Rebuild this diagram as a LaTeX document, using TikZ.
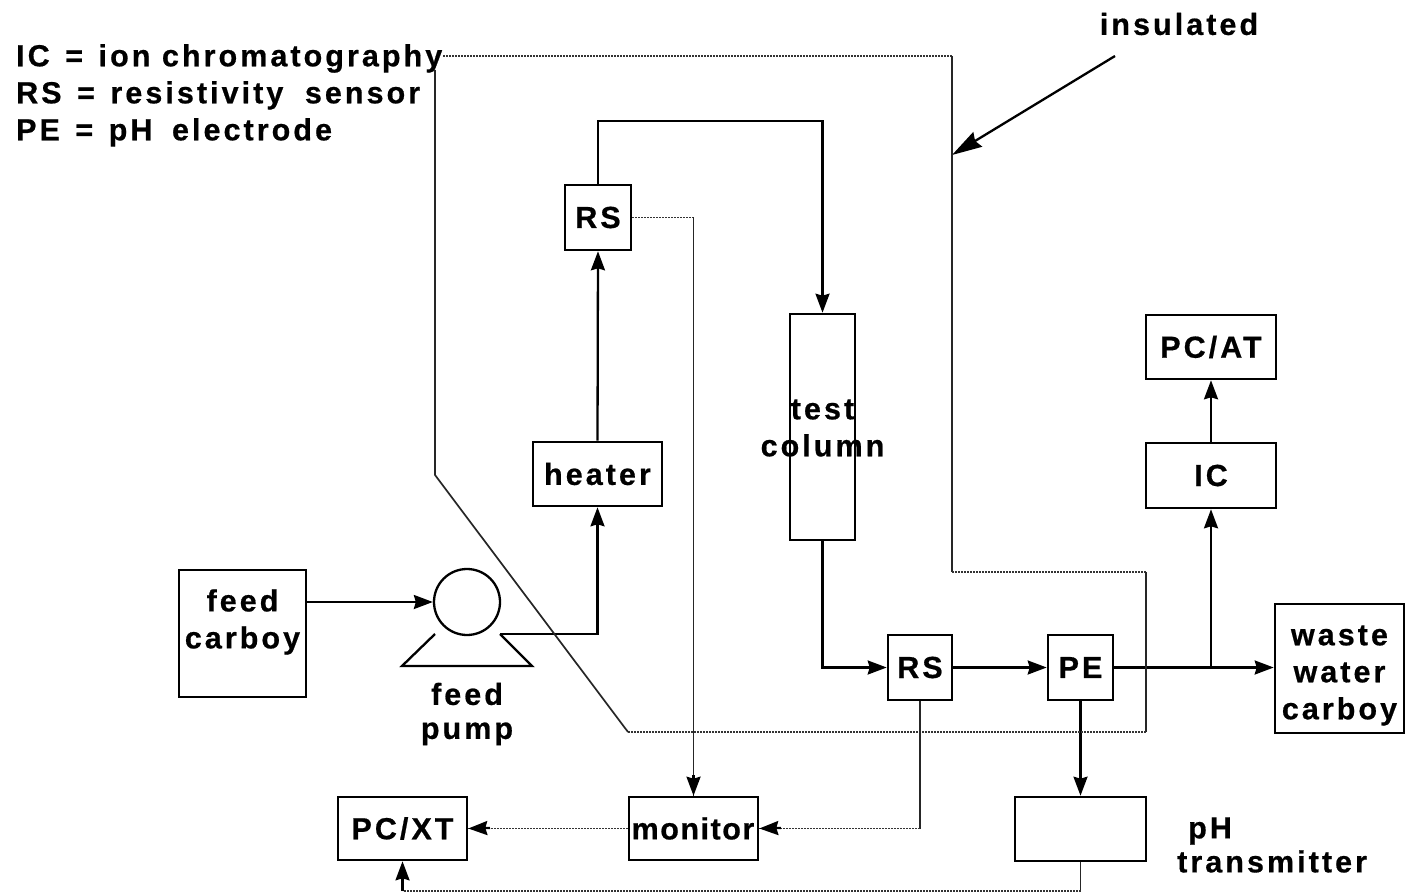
\documentclass[tikz,border=0pt]{standalone}
\usepackage{fontspec}
\setmainfont[LetterSpace=10,FakeBold=0.6]{Liberation Sans}
\newfontfamily\tightfont[LetterSpace=5,FakeBold=0.6]{Liberation Sans}
\usetikzlibrary{arrows.meta}
\tikzset{
  x=1pt,y=-1pt,
  box/.style={draw=black,line width=2.6pt,inner sep=0pt,align=center,font=\bfseries\fontsize{30.5}{37}\selectfont,text=black},
  lbl/.style={inner sep=0pt,align=center,font=\bfseries\fontsize{30.5}{37}\selectfont,text=black},
  pipe/.style={draw=black,line width=2.3pt},
  flow/.style={pipe,-{Stealth[length=19pt,width=14pt,inset=2pt]}},
  sig/.style={draw=black!80,line width=1.6pt,dash pattern=on 1.7pt off 1.3pt},
  thin line/.style={draw=black!85,line width=1.7pt},
  tip/.style={draw=black,line width=2.3pt,-{Stealth[length=19pt,width=14pt,inset=2pt]}},
}
\begin{document}
\begin{tikzpicture}
\useasboundingbox (0,0) rectangle (1406,896);
% boxes
\node[box,minimum width=127pt,minimum height=127pt] (feed) at (242.5,633.5) {};
\node[lbl] (feedlabel) at (242.5,622) {feed\\carboy};
\node[box,minimum width=129pt,minimum height=64pt] (heater) at (597.5,474) {heater};
\node[box,minimum width=66pt,minimum height=65pt] (rsa) at (598,217.5) {RS};
\node[box,minimum width=65pt,minimum height=226pt] (column) at (822.5,427) {};
\node[lbl] (columnlabel) at (822.5,428) {test\\column};
\node[box,minimum width=64pt,minimum height=65pt] (rsb) at (920,667.5) {RS};
\node[box,minimum width=65pt,minimum height=65pt] (pe) at (1080.5,667.5) {PE};
\node[box,minimum width=129pt,minimum height=129pt] (waste) at (1339.5,668.5) {};
\node[lbl] (wastelabel) at (1339.5,675.5) {waste\\water\\carboy};
\node[box,minimum width=130pt,minimum height=65pt] (ic) at (1211,475.5) {IC};
\node[box,minimum width=130pt,minimum height=64pt] (pcat) at (1211,347) {PC/AT};
\node[box,minimum width=129pt,minimum height=63pt] (monitor) at (693.5,828.5) {};
\node[lbl,font=\tightfont\bfseries\fontsize{30.5}{37}\selectfont] (monitorlabel) at (693,828.5) {monitor};
\node[box,minimum width=129pt,minimum height=63pt] (pcxt) at (402.5,828.5) {PC/XT};
\node[box,minimum width=131pt,minimum height=64pt] (ph) at (1080.5,829) {};
\node[lbl,align=left,anchor=west,font=\bfseries\fontsize{30.5}{34}\selectfont] (phlabel) at (1177,845) {\hspace{11pt}pH\\transmitter};
\node[lbl,font=\bfseries\fontsize{30.5}{34}\selectfont] (pumplabel) at (467,714) {feed\\pump};
\node[lbl] (insulatedlabel) at (1179,24) {insulated};
\node[lbl,align=left,anchor=north west] (legend) at (16,44) {IC\hspace{4pt} = \hspace{4pt}ion chromatography\\RS\hspace{4pt} = \hspace{4pt}resistivity\hspace{10pt} sensor\\PE\hspace{4pt} = \hspace{4pt}pH\hspace{8pt} electrode};
% pump
\node[circle,draw=black,line width=2.3pt,minimum size=66pt,inner sep=0pt] (pump) at (467,602) {};
\coordinate (pa) at (435,634);
\coordinate (pb) at (402,666);
\coordinate (pc) at (532,666);
\coordinate (pd) at (500,634);
\draw[pipe] (pa) -- (pb) -- (pc) -- (pd);
% solid flow
\draw[flow] (feed.east |- pump.west) -- (pump.west);
\draw[flow] (pd) -- (heater.south |- pd) -- (heater.south);
\draw[flow] (heater.north) -- (rsa.south);
\coordinate (top) at (598,121);
\draw[flow] (rsa.north) -- (top) -- (column.north |- top) -- (column.north);
\draw[flow] (column.south) |- (rsb.west);
\draw[flow] (rsb.east) -- (pe.west);
\draw[flow] (pe.east) -- (waste.west |- pe.east);
\coordinate (tee) at (ic.south |- pe.east);
\draw[flow] (tee) -- (ic.south);
\draw[flow] (ic.north) -- (pcat.south);
\draw[flow] (pe.south) -- (ph.north);
% insulated pointer
\coordinate (ins) at (1115,56);
\coordinate (loopb) at (952,155);
\draw[pipe,-{Stealth[length=30pt,width=17pt,inset=3pt]}] (ins) -- (loopb);
% insulated loop (dotted)
\coordinate (l1) at (443,56);
\coordinate (l2) at (952,56);
\coordinate (l3) at (952,572);
\coordinate (l4) at (1146,572);
\coordinate (l5) at (1146,732);
\coordinate (l6) at (628,732);
\coordinate (l7) at (435,475);
\coordinate (l8) at (435,70);
\draw[sig] (l1) -- (l2);
\draw[thin line] (l2) -- (l3);
\draw[sig] (l3) -- (l4);
\draw[thin line] (l4) -- (l5);
\draw[sig] (l5) -- (l6);
\draw[thin line] (l6) -- (l7) -- (l8);
% signal lines
\coordinate (s1) at (monitor.north |- rsa.east);
\draw[sig] (rsa.east) -- (s1);
\draw[thin line] (s1) -- (monitor.north);
\draw[tip] (monitor.north |- 0,775) -- (monitor.north);
\coordinate (s2) at (rsb.south |- monitor.east);
\draw[thin line] (rsb.south) -- (s2);
\draw[sig] (s2) -- (monitor.east);
\draw[tip] (781,828) -- (monitor.east);
\draw[sig] (monitor.west) -- (pcxt.east);
\draw[tip] (490,828) -- (pcxt.east);
\coordinate (s3) at (ph.south |- 0,891);
\coordinate (s4) at (pcxt.south |- 0,891);
\draw[thin line] (ph.south) -- (s3);
\draw[sig] (s3) -- (s4);
\draw[tip] (s4) -- (pcxt.south);
\end{tikzpicture}
\end{document}
